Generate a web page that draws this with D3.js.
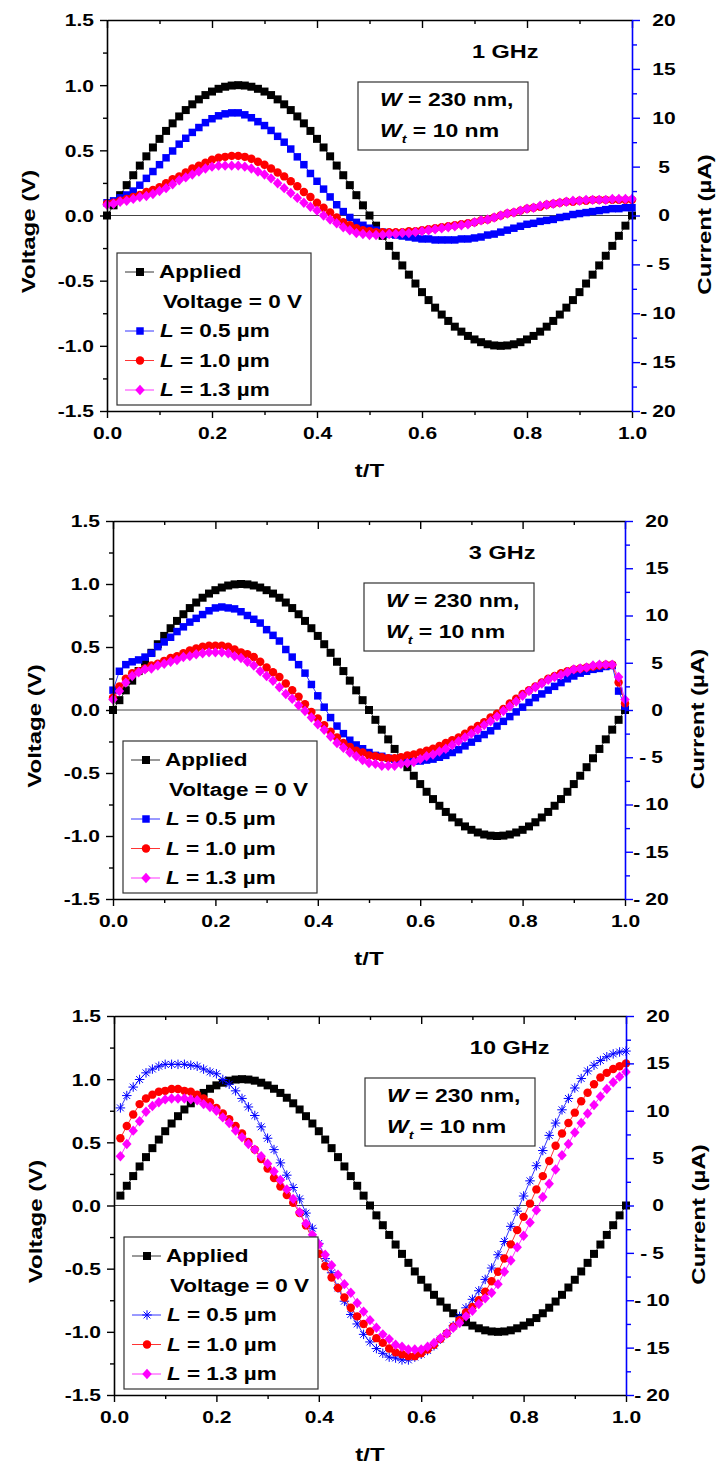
<!DOCTYPE html>
<html>
<head>
<meta charset="utf-8">
<script src="https://cdn.jsdelivr.net/npm/d3@7"></script>
<style>
  body { margin: 0; background: #fff; }
  svg text { font-family: "Liberation Sans", Arial, sans-serif; font-weight: bold; white-space: pre; }
</style>
</head>
<body>
<div id="chart"></div>
<script>
// ---- data ----
// normalised time t/T
const tT = [
  0,0.0125,0.025,0.0375,0.05,0.0625,0.075,0.0875,0.1,0.1125,
  0.125,0.1375,0.15,0.1625,0.175,0.1875,0.2,0.2125,0.225,0.2375,
  0.25,0.2625,0.275,0.2875,0.3,0.3125,0.325,0.3375,0.35,0.3625,
  0.375,0.3875,0.4,0.4125,0.425,0.4375,0.45,0.4625,0.475,0.4875,
  0.5,0.5125,0.525,0.5375,0.55,0.5625,0.575,0.5875,0.6,0.6125,
  0.625,0.6375,0.65,0.6625,0.675,0.6875,0.7,0.7125,0.725,0.7375,
  0.75,0.7625,0.775,0.7875,0.8,0.8125,0.825,0.8375,0.85,0.8625,
  0.875,0.8875,0.9,0.9125,0.925,0.9375,0.95,0.9625,0.975,0.9875,
  1.0];

// applied voltage (V), same in all panels
const applied = [
  0,0.078,0.156,0.233,0.309,0.383,0.454,0.522,0.588,0.649,
  0.707,0.760,0.809,0.853,0.891,0.924,0.951,0.972,0.988,0.997,
  1.0,0.997,0.988,0.972,0.951,0.924,0.891,0.853,0.809,0.760,
  0.707,0.649,0.588,0.522,0.454,0.383,0.309,0.233,0.156,0.078,
  0,-0.078,-0.156,-0.233,-0.309,-0.383,-0.454,-0.522,-0.588,-0.649,
  -0.707,-0.760,-0.809,-0.853,-0.891,-0.924,-0.951,-0.972,-0.988,-0.997,
  -1.0,-0.997,-0.988,-0.972,-0.951,-0.924,-0.891,-0.853,-0.809,-0.760,
  -0.707,-0.649,-0.588,-0.522,-0.454,-0.383,-0.309,-0.233,-0.156,-0.078,
  0];

// currents (uA), 1 GHz
const i1_L05 = [
  1.3,1.5,1.8,2.1,2.5,3.1,3.8,4.5,5.2,5.9,
  6.6,7.3,7.9,8.5,9.0,9.5,9.9,10.2,10.4,10.5,
  10.5,10.3,10.0,9.6,9.2,8.7,8.1,7.5,6.8,6.0,
  5.2,4.3,3.5,2.7,1.9,1.1,0.4,-0.2,-0.7,-1.0,
  -1.3,-1.5,-1.7,-1.9,-2.0,-2.1,-2.2,-2.3,-2.4,-2.4,
  -2.5,-2.5,-2.5,-2.5,-2.4,-2.4,-2.3,-2.2,-2.0,-1.9,
  -1.7,-1.5,-1.3,-1.1,-0.9,-0.8,-0.6,-0.5,-0.4,-0.2,
  -0.1,0.1,0.2,0.3,0.4,0.5,0.6,0.7,0.7,0.8,
  0.8];
const i1_L10 = [
  1.2,1.3,1.5,1.7,1.9,2.1,2.4,2.6,2.9,3.3,
  3.7,4.0,4.4,4.8,5.1,5.4,5.7,5.9,6.0,6.1,
  6.1,6.0,5.8,5.5,5.2,4.8,4.4,4.0,3.5,3.0,
  2.4,1.9,1.3,0.8,0.3,-0.2,-0.7,-1.0,-1.3,-1.5,
  -1.6,-1.7,-1.7,-1.7,-1.7,-1.7,-1.6,-1.6,-1.5,-1.4,
  -1.3,-1.2,-1.1,-1.0,-0.9,-0.8,-0.7,-0.5,-0.4,-0.2,
  0.0,0.2,0.3,0.5,0.7,0.8,0.9,1.1,1.2,1.3,
  1.4,1.4,1.5,1.5,1.6,1.6,1.6,1.6,1.6,1.6,
  1.6];
const i1_L13 = [
  1.1,1.2,1.4,1.5,1.7,1.9,2.0,2.2,2.5,2.8,
  3.2,3.6,3.9,4.2,4.5,4.8,5.0,5.1,5.1,5.1,
  5.1,5.0,4.8,4.5,4.2,3.8,3.3,2.8,2.3,1.8,
  1.3,0.9,0.5,0.0,-0.4,-0.8,-1.2,-1.5,-1.8,-1.9,
  -2.0,-2.0,-2.0,-1.9,-1.9,-1.8,-1.8,-1.7,-1.6,-1.5,
  -1.4,-1.3,-1.2,-1.1,-1.0,-0.9,-0.7,-0.5,-0.4,-0.2,
  0.0,0.2,0.3,0.5,0.7,0.8,1.0,1.1,1.2,1.3,
  1.4,1.5,1.5,1.6,1.6,1.6,1.6,1.7,1.7,1.7,
  1.7];

// currents (uA), 3 GHz
const i3_L05 = [
  2.1,4.1,4.8,5.1,5.3,5.6,6.0,6.7,7.2,7.7,
  8.3,8.8,9.3,9.7,10.1,10.5,10.8,10.9,10.8,10.7,
  10.4,10.0,9.6,9.2,8.5,7.9,7.3,6.4,5.6,4.8,
  3.9,2.7,1.5,0.3,-0.8,-1.7,-2.5,-3.2,-3.7,-4.1,
  -4.5,-4.8,-4.9,-5.1,-5.2,-5.3,-5.3,-5.4,-5.4,-5.3,
  -5.2,-5.0,-4.8,-4.5,-4.2,-3.8,-3.4,-3.0,-2.6,-2.2,
  -1.7,-1.2,-0.7,-0.2,0.3,0.8,1.3,1.7,2.1,2.5,
  2.9,3.3,3.6,3.9,4.1,4.3,4.4,4.6,4.7,2.0,
  0.4];
const i3_L10 = [
  1.3,2.5,3.3,3.9,4.1,4.4,4.7,4.9,5.2,5.5,
  5.7,6.0,6.3,6.5,6.7,6.8,6.8,6.8,6.7,6.4,
  6.1,5.9,5.6,5.1,4.5,4.0,3.5,2.8,2.1,1.4,
  0.6,-0.2,-0.9,-1.6,-2.3,-2.9,-3.5,-3.9,-4.3,-4.5,
  -4.8,-4.9,-5.0,-5.1,-5.1,-5.0,-4.8,-4.7,-4.5,-4.3,
  -4.1,-3.8,-3.5,-3.2,-2.9,-2.5,-2.1,-1.7,-1.3,-0.8,
  -0.4,0.1,0.7,1.2,1.7,2.1,2.5,2.9,3.3,3.6,
  3.9,4.1,4.3,4.4,4.5,4.6,4.7,4.8,4.8,2.9,
  0.7];
const i3_L13 = [
  1.1,2.0,2.9,3.6,4.0,4.3,4.4,4.7,4.9,5.1,
  5.3,5.6,5.7,5.9,6.0,6.1,6.1,6.1,6.0,5.7,
  5.5,5.1,4.7,4.1,3.6,3.1,2.4,1.7,1.2,0.5,
  -0.1,-0.8,-1.5,-2.1,-2.8,-3.5,-4.0,-4.5,-4.9,-5.3,
  -5.6,-5.7,-5.9,-5.9,-5.9,-5.7,-5.6,-5.5,-5.2,-4.9,
  -4.7,-4.4,-4.1,-3.7,-3.3,-2.9,-2.5,-2.1,-1.6,-1.2,
  -0.7,-0.1,0.4,0.9,1.5,2.0,2.4,2.8,3.2,3.5,
  3.7,4.0,4.3,4.4,4.5,4.7,4.8,4.8,4.8,3.5,
  1.1];

// currents (uA), 10 GHz (no sample at t = 0)
const i10_L05 = [
  null,10.3,11.6,12.5,13.3,14.0,14.4,14.7,14.9,14.9,
  14.9,14.9,14.8,14.7,14.4,14.1,13.9,13.3,12.8,12.1,
  11.3,10.4,9.5,8.3,7.1,5.9,4.5,3.2,1.9,0.7,
  -0.8,-2.4,-4.0,-5.6,-7.1,-8.7,-10.1,-11.5,-12.5,-13.6,
  -14.4,-15.1,-15.6,-16.0,-16.1,-16.3,-16.3,-16.0,-15.7,-15.3,
  -14.8,-14.1,-13.5,-12.7,-11.7,-10.8,-9.9,-9.0,-7.8,-6.6,
  -5.2,-3.8,-2.2,-0.6,1.0,2.6,4.2,5.8,7.4,8.7,
  10.1,11.3,12.4,13.4,14.2,14.8,15.3,15.7,16.0,16.2,
  16.3];
const i10_L10 = [
  null,7.1,8.4,9.6,10.7,11.3,11.7,12.0,12.1,12.3,
  12.3,12.1,12.0,11.7,11.3,10.9,10.3,9.7,9.1,8.4,
  7.6,6.7,5.9,4.9,3.9,2.9,2.0,1.1,0.3,-0.8,
  -2.1,-3.6,-5.1,-6.4,-7.6,-8.7,-9.7,-10.8,-11.7,-12.5,
  -13.3,-14.0,-14.5,-15.1,-15.5,-15.7,-15.9,-15.9,-15.6,-15.2,
  -14.7,-14.1,-13.5,-12.8,-12.1,-11.3,-10.7,-10.0,-9.1,-8.0,
  -7.0,-5.6,-4.1,-2.6,-1.2,0.2,1.7,3.1,4.7,6.3,
  7.6,8.7,9.8,11.0,11.9,12.8,13.5,14.0,14.4,14.7,
  15.0];
const i10_L13 = [
  null,5.2,6.5,7.9,8.9,9.9,10.5,10.9,11.2,11.3,
  11.3,11.3,11.2,11.1,10.7,10.4,10.0,9.3,8.7,7.9,
  7.2,6.5,5.9,5.2,4.4,3.6,2.7,1.7,0.7,-0.7,
  -1.9,-3.1,-4.1,-5.2,-6.3,-7.3,-8.3,-9.2,-10.3,-11.2,
  -12.1,-12.9,-13.6,-14.1,-14.7,-14.9,-15.2,-15.2,-15.2,-14.9,
  -14.5,-14.0,-13.5,-12.9,-12.4,-11.7,-11.1,-10.4,-9.8,-9.2,
  -8.3,-7.0,-5.8,-4.4,-3.2,-1.8,-0.5,0.9,2.3,3.8,
  5.3,6.5,7.7,8.7,9.7,10.6,11.5,12.3,13.0,13.6,
  14.1];

const freqLabels = ["1 GHz", "3 GHz", "10 GHz"];
const lengthLabels = ["0.5", "1.0", "1.3"];
const voltTicks = [-1.5, -1.0, -0.5, 0, 0.5, 1.0, 1.5];
const voltMinor = [-1.25, -0.75, -0.25, 0.25, 0.75, 1.25];
const currTicks = [-20, -15, -10, -5, 0, 5, 10, 15, 20];
const currMinor = [-17.5, -12.5, -7.5, -2.5, 2.5, 7.5, 12.5, 17.5];
const timeTicks = [0, 0.2, 0.4, 0.6, 0.8, 1.0];
const timeMinor = [0.1, 0.3, 0.5, 0.7, 0.9];

// ---- layout ----
const width = 719, height = 1466;
const SY = 0.8;   // glyphs in the source picture are squashed vertically

const panels = [
  {L:107, R:632, T:20,   B:411,  freq:freqLabels[0], cur:[i1_L05, i1_L10, i1_L13], star:false, from:0},
  {L:113, R:625, T:521,  B:899,  freq:freqLabels[1], cur:[i3_L05, i3_L10, i3_L13], star:false, from:0},
  {L:114, R:626, T:1016, B:1395, freq:freqLabels[2], cur:[i10_L05, i10_L10, i10_L13], star:true, from:1}
];

const blue = "#0000ff", red = "#ff0000", magenta = "#ff00ff";

// custom marker shapes
const diamond = {draw(ctx, size) {
  const r = Math.sqrt(size) / 2;
  ctx.moveTo(0, -r * 1.1); ctx.lineTo(r, 0); ctx.lineTo(0, r * 1.1); ctx.lineTo(-r, 0); ctx.closePath();
}};
const star = {draw(ctx, size) {
  const r = Math.sqrt(size) / 2, d = r * 0.72;
  ctx.moveTo(-r, 0); ctx.lineTo(r, 0); ctx.moveTo(0, -r); ctx.lineTo(0, r);
  ctx.moveTo(-d, -d); ctx.lineTo(d, d); ctx.moveTo(-d, d); ctx.lineTo(d, -d);
}};

const svg = d3.select("#chart").append("svg")
  .attr("width", width).attr("height", height);

function txt(g, x, y, s, size, anchor, rot) {
  return g.append("text")
    .attr("transform", `translate(${x},${y})` + (rot ? ` rotate(${rot})` : "") + ` scale(1,${SY})`)
    .attr("text-anchor", anchor || "middle")
    .attr("dy", "0.35em")
    .attr("font-size", size)
    .text(s);
}

function rich(g, x, y, parts, size) {
  const t = g.append("text")
    .attr("transform", `translate(${x},${y}) scale(1,${SY})`)
    .attr("dy", "0.35em")
    .attr("font-size", size);
  parts.forEach(p => {
    const s = t.append("tspan").text(p.t);
    if (p.i) s.attr("font-style", "italic");
    if (p.sub) s.attr("font-size", size * 0.62).attr("dy", size * 0.32);
    if (p.back) s.attr("dy", -size * 0.32);
  });
  return t;
}

function drawPanel(p) {
  const g = svg.append("g");
  const x = d3.scaleLinear().domain([0, 1]).range([p.L, p.R]);
  const yV = d3.scaleLinear().domain([-1.5, 1.5]).range([p.B, p.T]);
  const yI = d3.scaleLinear().domain([-20, 20]).range([p.B, p.T]);

  // zero line
  g.append("line")
    .attr("x1", p.L).attr("x2", p.R)
    .attr("y1", yV(0)).attr("y2", yV(0))
    .attr("stroke", "#444").attr("stroke-width", 1);

  const styles = [
    {vals: applied,  y: yV, color: "#000", type: d3.symbolSquare, size: 64, stroke: false},
    {vals: p.cur[0], y: yI, color: blue,   type: p.star ? star : d3.symbolSquare, size: p.star ? 90 : 56, stroke: p.star},
    {vals: p.cur[1], y: yI, color: red,    type: d3.symbolCircle, size: 56, stroke: false},
    {vals: p.cur[2], y: yI, color: magenta, type: diamond, size: 90, stroke: false}
  ];

  styles.forEach(s => {
    const pts = tT.map((t, i) => ({t, v: s.vals[i]}))
      .filter((d, i) => i >= p.from && d.v != null);
    const line = d3.line().x(d => x(d.t)).y(d => s.y(d.v));
    g.append("path").datum(pts)
      .attr("d", line)
      .attr("fill", "none").attr("stroke", s.color).attr("stroke-width", 0.8);
    g.append("g").selectAll("path")
      .data(pts)
      .join("path")
      .attr("transform", d => `translate(${x(d.t)},${s.y(d.v)})`)
      .attr("d", d3.symbol().type(s.type).size(s.size))
      .attr("fill", s.stroke ? "none" : s.color)
      .attr("stroke", s.stroke ? s.color : "none")
      .attr("stroke-width", 1);
  });

  // axes
  const styleAxis = (sel, color) => {
    sel.select(".domain").attr("stroke", color).attr("stroke-width", 1.6);
    sel.selectAll(".tick line").attr("stroke", color).attr("stroke-width", 1.4);
  };

  const gb = g.append("g").attr("transform", `translate(0,${p.B})`)
    .call(d3.axisBottom(x).tickValues(timeTicks).tickSize(7).tickSizeOuter(0)
      .tickFormat(d => d.toFixed(1)))
    .attr("font-size", 21).attr("font-family", null);
  styleAxis(gb, "#000");
  gb.selectAll(".tick text")
    .attr("y", null).attr("dy", "0.35em")
    .attr("transform", `translate(0,22) scale(1,${SY})`);
  const gbm = g.append("g").attr("transform", `translate(0,${p.B})`)
    .call(d3.axisBottom(x).tickValues(timeMinor).tickSize(4).tickFormat(""));
  gbm.select(".domain").remove();
  styleAxis(gbm, "#000");

  const gt = g.append("g").attr("transform", `translate(0,${p.T})`)
    .call(d3.axisTop(x).tickValues(timeTicks).tickSize(-8).tickSizeOuter(0).tickFormat(""));
  styleAxis(gt, "#000");
  const gtm = g.append("g").attr("transform", `translate(0,${p.T})`)
    .call(d3.axisTop(x).tickValues(timeMinor).tickSize(-4).tickFormat(""));
  gtm.select(".domain").remove();
  styleAxis(gtm, "#000");

  const gl = g.append("g").attr("transform", `translate(${p.L},0)`)
    .call(d3.axisLeft(yV).tickValues(voltTicks).tickSize(7).tickSizeOuter(0)
      .tickFormat(d => d.toFixed(1)))
    .attr("font-size", 21).attr("font-family", null);
  styleAxis(gl, "#000");
  gl.selectAll(".tick text")
    .attr("x", null).attr("dy", "0.35em")
    .attr("transform", `translate(-13,0) scale(1,${SY})`);
  const glm = g.append("g").attr("transform", `translate(${p.L},0)`)
    .call(d3.axisLeft(yV).tickValues(voltMinor).tickSize(4).tickFormat(""));
  glm.select(".domain").remove();
  styleAxis(glm, "#000");

  const gr = g.append("g").attr("transform", `translate(${p.R},0)`)
    .call(d3.axisRight(yI).tickValues(currTicks).tickSize(8).tickSizeOuter(0).tickFormat(""));
  styleAxis(gr, blue);
  const grm = g.append("g").attr("transform", `translate(${p.R},0)`)
    .call(d3.axisRight(yI).tickValues(currMinor).tickSize(5).tickFormat(""));
  grm.select(".domain").remove();
  styleAxis(grm, blue);

  // right tick labels: number centred, "- " hung in front of negatives
  currTicks.forEach(v => {
    const cx = p.R + 32;
    const t = txt(g, cx, yI(v), String(Math.abs(v)), 21, "middle");
    if (v < 0) {
      const w = t.node().getComputedTextLength();
      txt(g, cx - w / 2 - 5, yI(v), "-", 21, "end");
    }
  });

  // axis titles
  txt(g, (p.L + p.R) / 2, p.B + 59, "t/T", 24, "middle");
  txt(g, p.L - 79, (p.T + p.B) / 2 + 16, "Voltage (V)", 24, "middle", -90);
  txt(g, p.R + 72, (p.T + p.B) / 2 + 9, "Current (\u00b5A)", 24, "middle", -90);

  // frequency
  txt(g, p.L + 0.695 * (p.R - p.L), p.T + 31, p.freq, 23.5, "start");

  // geometry note
  const bx = p.L + 251, by = p.T + 62;
  g.append("rect").attr("x", bx).attr("y", by).attr("width", 170).attr("height", 68)
    .attr("fill", "#fff").attr("stroke", "#333").attr("stroke-width", 1.2);
  rich(g, bx + 22, by + 18, [{t: "W", i: true}, {t: " = 230 nm,"}], 23);
  rich(g, bx + 22, by + 49, [{t: "W", i: true}, {t: "t", i: true, sub: true}, {t: " = 10 nm", back: true}], 23);

  // legend
  const lx = p.L + 10, ly = p.B - 158;
  g.append("rect").attr("x", lx).attr("y", ly).attr("width", 194).attr("height", 152)
    .attr("fill", "#fff").attr("stroke", "#333").attr("stroke-width", 1.2);
  const rowY = i => ly + 19 + 29.5 * i;
  const legendRows = [
    {s: styles[0], row: 0},
    {s: styles[1], row: 2},
    {s: styles[2], row: 3},
    {s: styles[3], row: 4}
  ];
  legendRows.forEach(r => {
    const yy = rowY(r.row);
    g.append("line").attr("x1", lx + 8).attr("x2", lx + 37).attr("y1", yy).attr("y2", yy)
      .attr("stroke", r.s.color).attr("stroke-width", 0.8);
    g.append("path").attr("transform", `translate(${lx + 23},${yy})`)
      .attr("d", d3.symbol().type(r.s.type).size(r.s.size))
      .attr("fill", r.s.stroke ? "none" : r.s.color)
      .attr("stroke", r.s.stroke ? r.s.color : "none");
  });
  txt(g, lx + 42, rowY(0), "Applied", 22.5, "start");
  txt(g, lx + 46, rowY(1), "Voltage = 0 V", 22.5, "start");
  lengthLabels.forEach((lab, i) => {
    rich(g, lx + 43, rowY(i + 2), [{t: "L", i: true}, {t: " = " + lab + " \u00b5m"}], 22.5);
  });
}

panels.forEach(drawPanel);
</script>
</body>
</html>
